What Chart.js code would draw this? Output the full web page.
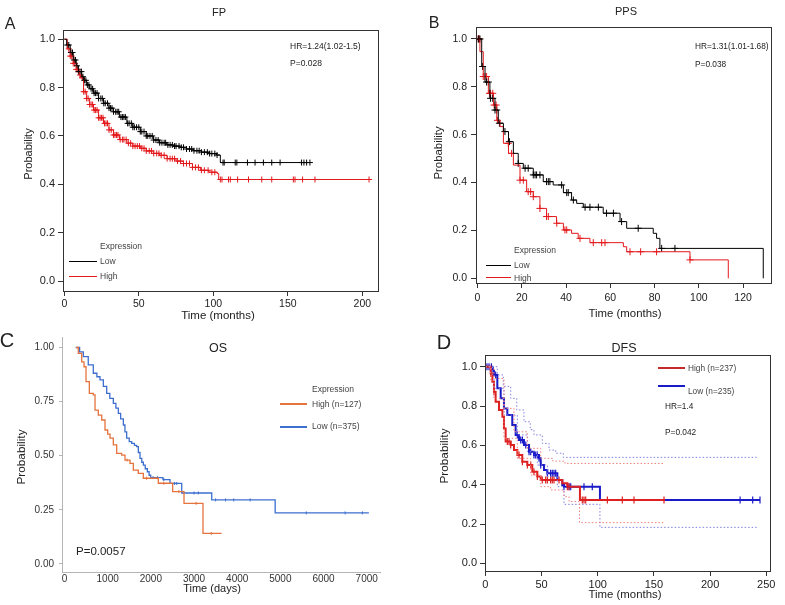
<!DOCTYPE html>
<html>
<head>
<meta charset="utf-8">
<script src="https://cdn.jsdelivr.net/npm/chart.js@4.4.1/dist/chart.umd.min.js"></script>
<style>
  body { margin: 0; background: #fff; width: 785px; height: 605px; position: relative; overflow: hidden;
         font-family: "Liberation Sans", Arial, sans-serif; color: #222; }
  canvas { position: absolute; }
  .t { position: absolute; white-space: nowrap; line-height: 1; }
  .c { transform: translate(-50%, -50%); }
  .l { transform: translateY(-50%); }
  .v { transform: translate(-50%, -50%) rotate(-90deg); }
  .ln { position: absolute; height: 1px; }
</style>
</head>
<body>
<canvas id="cA" width="392" height="322" style="left:0;top:0"></canvas>
<canvas id="cB" width="393" height="322" style="left:392px;top:0"></canvas>
<canvas id="cC" width="392" height="280" style="left:0;top:325px"></canvas>
<canvas id="cD" width="393" height="280" style="left:392px;top:325px"></canvas>

<!-- panel A -->
<div class="t c" style="left:10px;top:24px;font-size:16px">A</div>
<div class="t c" style="left:219px;top:12px;font-size:11px">FP</div>
<div class="t l" style="left:290px;top:46px;font-size:8.5px">HR=1.24(1.02-1.5)</div>
<div class="t l" style="left:290px;top:63px;font-size:8.5px">P=0.028</div>
<div class="t l" style="left:100px;top:246px;font-size:8.5px;color:#444">Expression</div>
<div class="ln" style="left:69px;top:261px;width:28px;background:#000"></div>
<div class="t l" style="left:100px;top:261px;font-size:8.5px;color:#444">Low</div>
<div class="ln" style="left:69px;top:276px;width:28px;background:#e3191c"></div>
<div class="t l" style="left:100px;top:276px;font-size:8.5px;color:#444">High</div>
<div class="t v" style="left:28px;top:154px;font-size:11px">Probability</div>
<div class="t c" style="left:218px;top:316px;font-size:11.5px">Time (months)</div>

<!-- panel B -->
<div class="t c" style="left:434px;top:23px;font-size:16px">B</div>
<div class="t c" style="left:626px;top:11px;font-size:11px">PPS</div>
<div class="t l" style="left:695px;top:46px;font-size:8.3px">HR=1.31(1.01-1.68)</div>
<div class="t l" style="left:695px;top:64px;font-size:8.3px">P=0.038</div>
<div class="t l" style="left:514px;top:250px;font-size:8.5px;color:#444">Expression</div>
<div class="ln" style="left:486px;top:265px;width:25px;background:#000"></div>
<div class="t l" style="left:514px;top:265px;font-size:8.5px;color:#444">Low</div>
<div class="ln" style="left:486px;top:277px;width:25px;background:#e3191c"></div>
<div class="t l" style="left:514px;top:278px;font-size:8.5px;color:#444">High</div>
<div class="t v" style="left:439px;top:153px;font-size:11.4px">Probability</div>
<div class="t c" style="left:625px;top:314px;font-size:11.4px">Time (months)</div>

<!-- panel C -->
<div class="t c" style="left:7px;top:340px;font-size:20px">C</div>
<div class="t c" style="left:218px;top:348px;font-size:12.5px">OS</div>
<div class="t l" style="left:312px;top:389px;font-size:8.5px;color:#444">Expression</div>
<div class="ln" style="left:280px;top:403px;width:27px;height:2px;background:#e5733e"></div>
<div class="t l" style="left:312px;top:404px;font-size:8.5px;color:#444">High (n=127)</div>
<div class="ln" style="left:280px;top:426px;width:27px;height:1.5px;background:#3d6fcf"></div>
<div class="t l" style="left:312px;top:426px;font-size:8.5px;color:#444">Low (n=375)</div>
<div class="t l" style="left:76px;top:552px;font-size:11.5px">P=0.0057</div>
<div class="t v" style="left:22px;top:457px;font-size:11.8px">Probability</div>
<div class="t c" style="left:212px;top:588px;font-size:11px">Time (days)</div>

<!-- panel D -->
<div class="t c" style="left:444px;top:342px;font-size:20px">D</div>
<div class="t c" style="left:624px;top:348px;font-size:12.5px">DFS</div>
<div class="ln" style="left:658px;top:367px;width:27px;height:1.5px;background:#c42a2a"></div>
<div class="t l" style="left:688px;top:368px;font-size:8.3px;color:#444">High (n=237)</div>
<div class="ln" style="left:658px;top:385px;width:27px;height:1.5px;background:#1a1ac8"></div>
<div class="t l" style="left:688px;top:391px;font-size:8.3px;color:#444">Low (n=235)</div>
<div class="t l" style="left:665px;top:406px;font-size:8.3px">HR=1.4</div>
<div class="t l" style="left:665px;top:432px;font-size:8.3px">P=0.042</div>
<div class="t v" style="left:445px;top:456px;font-size:11.8px">Probability</div>
<div class="t c" style="left:625px;top:595px;font-size:11.4px">Time (months)</div>

<script>
// ---------- A: FP (months) ----------
const fpTicksX = [0, 50, 100, 150, 200];
const probTicks = [0, 0.2, 0.4, 0.6, 0.8, 1.0];
const fpLowT  = [0, 1.6, 4, 6, 8, 9.5, 11.7, 13, 15, 17, 19.6, 23, 26.3, 30, 33, 37, 42, 46, 51, 55, 59.8, 64, 68.7, 73, 77.6, 82, 86.6, 92, 97, 102.2, 104.7, 164.8];
const fpLowS  = [1, 0.976, 0.945, 0.914, 0.89, 0.866, 0.845, 0.83, 0.811, 0.795, 0.777, 0.755, 0.735, 0.715, 0.7, 0.678, 0.652, 0.636, 0.618, 0.6, 0.583, 0.572, 0.563, 0.558, 0.553, 0.546, 0.539, 0.533, 0.527, 0.521, 0.49, 0.49];
const fpHighT = [0, 2, 4, 6, 8, 10, 11, 12.9, 15, 17, 19.6, 23, 26.3, 30, 33, 37, 42, 46, 51, 55, 59.8, 64, 69, 75, 80, 86, 91.3, 97, 102.5, 103.6, 204.5];
const fpHighS = [1, 0.96, 0.93, 0.9, 0.875, 0.852, 0.84, 0.783, 0.755, 0.73, 0.707, 0.675, 0.652, 0.625, 0.604, 0.585, 0.57, 0.558, 0.549, 0.538, 0.528, 0.52, 0.506, 0.496, 0.486, 0.47, 0.458, 0.45, 0.445, 0.42, 0.42];
const fpLowCens  = [2, 3, 4.5, 5.5, 6.5, 7.5, 8.5, 9.5, 10.5, 11.5, 12.5, 13.5, 14.5, 15.5, 16.5, 18, 19, 20, 21, 22, 23, 24.5, 25.5, 26.5, 27.5, 29, 30, 31, 32, 33, 34.5, 35.5, 36.5, 38, 39, 40, 41, 42.5, 43.5, 45, 46, 47, 48.5, 50, 51, 52, 53.5, 55, 56, 57.5, 59, 60, 61.5, 63, 64, 65.5, 67, 68, 69.5, 71, 72.5, 74, 75, 77, 78.5, 80, 82, 84, 85.5, 87, 89, 90.5, 92, 94, 96, 97.5, 99, 101, 102.5, 106.5, 107.3, 114.7, 115.8, 122.9, 128, 133.6, 139.2, 144.8, 159.2, 160.8, 162.6, 164.8];
const fpHighCens = [3, 4, 5, 6, 7, 8, 9, 10.5, 12, 13, 14, 15, 16, 17, 18, 19, 20, 21, 22, 23, 24, 25, 26, 27, 28, 29, 30, 31.5, 33, 34, 35, 36, 37.5, 39, 40, 41.5, 43, 44.5, 46, 47.5, 49, 50.5, 52, 53.5, 55, 57, 58.5, 60, 62, 63.5, 65, 67, 69, 71, 72.5, 74, 76, 78, 80, 82, 84, 86, 88, 90, 92, 94, 96.5, 99, 101, 104.7, 105.8, 110.2, 111.4, 116.3, 123.6, 132.5, 139.2, 153.7, 154.8, 159.9, 168.2, 204.5];

// ---------- B: PPS (months) ----------
const ppsTicksX = [0, 20, 40, 60, 80, 100, 120];
const ppsLowT  = [0, 1.9, 3.4, 5.6, 7.9, 9.4, 11.7, 14, 16.2, 18.4, 20.7, 25.2, 29.7, 34.2, 38.8, 42.5, 44.8, 47.8, 55.3, 56.8, 64.4, 67.4, 79.4, 80.9, 82.4, 129.1];
const ppsLowS  = [1, 0.885, 0.82, 0.752, 0.703, 0.648, 0.613, 0.571, 0.522, 0.48, 0.46, 0.432, 0.404, 0.39, 0.358, 0.327, 0.313, 0.297, 0.297, 0.272, 0.237, 0.209, 0.188, 0.167, 0.125, 0];
const ppsHighT = [0, 1.1, 2.6, 4.9, 7.2, 8.7, 10.2, 11.7, 14, 16.2, 19.2, 22.2, 25.2, 28.2, 31.2, 35.7, 38.8, 42.5, 45.5, 50.8, 65.9, 67.4, 96, 113.3];
const ppsHighS = [1, 0.947, 0.843, 0.773, 0.724, 0.66, 0.634, 0.564, 0.522, 0.473, 0.41, 0.362, 0.341, 0.292, 0.258, 0.23, 0.202, 0.188, 0.167, 0.149, 0.132, 0.111, 0.077, 0];
const ppsLowCens  = [0.4, 1.1, 2.3, 4.1, 4.9, 5.9, 6.9, 7.9, 8.7, 9.9, 12.4, 14.4, 18.4, 21.5, 22.9, 25.2, 26, 26.7, 28.2, 31.2, 32, 32.7, 38, 40.3, 41, 43.3, 48.6, 50.8, 54.6, 58.3, 61.4, 65.1, 72.6, 83.2, 89.2];
const ppsHighCens = [0.3, 0.5, 0.8, 2.6, 3.4, 4.1, 5.4, 5.9, 6.9, 7.5, 8.4, 9, 13.9, 15.4, 19.2, 20.7, 22.9, 24, 25.2, 28.2, 31.2, 32, 35.8, 39.5, 40.3, 46.3, 52.3, 56.1, 57.6, 68.9, 73.7, 80.9, 96];

// ---------- C: OS (days) ----------
const osTicksX = [0, 1000, 2000, 3000, 4000, 5000, 6000, 7000];
const osTicksY = [0, 0.25, 0.5, 0.75, 1.0];
const osHighT = [266, 320, 398, 452, 498, 575, 667, 707, 783, 862, 938, 1000, 1054, 1131, 1209, 1325, 1401, 1517, 1594, 1710, 1826, 2173, 2506, 2768, 3208, 3638];
const osHighS = [1, 0.973, 0.934, 0.911, 0.842, 0.788, 0.781, 0.711, 0.688, 0.665, 0.619, 0.6, 0.581, 0.55, 0.511, 0.503, 0.48, 0.465, 0.434, 0.419, 0.396, 0.373, 0.334, 0.28, 0.141, 0.141];
const osLowT  = [260, 350, 436, 550, 667, 750, 822, 900, 977, 1050, 1131, 1190, 1247, 1300, 1363, 1400, 1440, 1500, 1556, 1620, 1672, 1710, 1749, 1790, 1826, 1870, 1919, 1960, 1997, 2280, 2444, 2715, 3410, 4880, 7050];
const osLowS  = [1, 0.98, 0.958, 0.92, 0.881, 0.865, 0.85, 0.82, 0.788, 0.765, 0.742, 0.72, 0.696, 0.67, 0.642, 0.61, 0.581, 0.565, 0.557, 0.548, 0.542, 0.515, 0.488, 0.47, 0.457, 0.44, 0.426, 0.41, 0.399, 0.39, 0.372, 0.328, 0.296, 0.236, 0.236];
const osHighCens = [1450, 1900, 2300, 2650, 3050, 3400];
const osLowCens  = [2050, 2150, 2300, 2550, 2600, 3000, 3100, 3500, 3730, 3920, 4300, 5600, 6500, 6900];

// ---------- D: DFS (months) ----------
const dfsTicksX = [0, 50, 100, 150, 200, 250];
const dfsHighT = [0, 4.8, 6.3, 7.7, 9.2, 12.2, 15.2, 16.6, 18.1, 22.6, 25.5, 28.5, 32.9, 37.4, 41.8, 46.3, 49.3, 68.5, 73, 84.2, 159.9];
const dfsHighS = [1, 0.966, 0.924, 0.873, 0.822, 0.78, 0.746, 0.686, 0.619, 0.602, 0.576, 0.551, 0.517, 0.5, 0.466, 0.441, 0.424, 0.407, 0.39, 0.322, 0.322];
const dfsLowT  = [0, 6.3, 7.7, 10.7, 13.7, 16.6, 19.6, 24, 27, 30, 34.4, 38.9, 43.3, 47.8, 49.3, 52.2, 55.2, 64.1, 68.5, 70, 102, 244.4];
const dfsLowS  = [1, 0.98, 0.958, 0.89, 0.839, 0.788, 0.754, 0.703, 0.653, 0.627, 0.602, 0.568, 0.551, 0.534, 0.5, 0.475, 0.458, 0.424, 0.398, 0.39, 0.322, 0.322];
const dfsHighUpT = [0, 4.8, 7.7, 16.6, 25.5, 37.4, 49.3, 60, 70.9, 158.4];
const dfsHighUpS = [1, 0.99, 0.94, 0.788, 0.669, 0.585, 0.534, 0.52, 0.508, 0.508];
const dfsHighLoT = [0, 4.8, 7.7, 16.6, 28.5, 40.4, 49.3, 58.1, 70, 74.5, 83.8, 158.4];
const dfsHighLoS = [1, 0.93, 0.839, 0.636, 0.534, 0.449, 0.39, 0.373, 0.339, 0.314, 0.207, 0.207];
const dfsLowUpT  = [0, 6.3, 10.7, 16, 22.6, 28, 34.4, 40, 43.3, 50.7, 56.7, 62.6, 69.4, 241.5];
const dfsLowUpS  = [1, 1, 0.958, 0.9, 0.839, 0.78, 0.72, 0.68, 0.653, 0.61, 0.576, 0.56, 0.539, 0.539];
const dfsLowLoT  = [0, 6.3, 7.7, 16.6, 28.5, 37.4, 46.3, 55.2, 64.1, 70, 102, 241.5];
const dfsLowLoS  = [1, 0.96, 0.89, 0.754, 0.653, 0.568, 0.5, 0.441, 0.39, 0.3, 0.183, 0.183];
const dfsHighCens = [4.8, 7.7, 19.6, 21.1, 22.6, 30, 33, 37.4, 40.4, 43.3, 46.3, 50.7, 53.7, 55.2, 58.1, 59.6, 61.1, 65.6, 73, 74.5, 86.3, 87.8, 89.3, 108.6, 121.9, 132.3, 159];
const dfsLowCens  = [1.5, 3.3, 5.4, 7.1, 9.2, 28.5, 31.5, 33, 36, 38.9, 40.4, 43.3, 44.8, 46.3, 47.8, 49.3, 55.2, 58.1, 59.6, 61.1, 62.6, 70, 74.5, 76, 87.8, 95.2, 226.7, 237.9, 244.4];

const FONT = '"Liberation Sans", Arial, sans-serif';

function steps(t, s) { return t.map((v, i) => ({ x: v, y: s[i] })); }
// censor mark sits on the curve value in force at that time
function marks(c, t, s) {
  return c.map(v => {
    let i = 0;
    while (i + 1 < t.length && t[i + 1] <= v) i++;
    return { x: v, y: s[i] };
  });
}
function curve(t, s, col, w, dash) {
  return { data: steps(t, s), borderColor: col, borderWidth: w, borderDash: dash || [], stepped: true, pointRadius: 0, fill: false };
}
function cens(c, t, s, col, style, r, w) {
  return { data: marks(c, t, s), showLine: false, borderColor: col, backgroundColor: col, pointStyle: style,
           pointRotation: style === 'line' ? 90 : 0, pointRadius: r, borderWidth: w };
}

const frame = {
  id: 'frame',
  afterDraw(chart, args, opts) {
    if (!opts.on) return;
    const a = chart.chartArea, ctx = chart.ctx;
    ctx.save();
    ctx.strokeStyle = opts.color;
    ctx.lineWidth = 1;
    ctx.strokeRect(Math.round(a.left) + 0.5, Math.round(a.top) + 0.5, Math.round(a.right - a.left), Math.round(a.bottom - a.top));
    ctx.restore();
  }
};

function axis(o) {
  return {
    type: 'linear', min: o.min, max: o.max,
    afterBuildTicks: s => { s.ticks = o.ticks.map(v => ({ value: v })); },
    afterFit: s => { if (o.w) s.width = o.w; if (o.h) s.height = o.h; },
    grid: { drawOnChartArea: false, drawTicks: o.tick > 0, tickLength: o.tick, color: o.col, lineWidth: 1 },
    border: { display: true, color: o.col, width: 1 },
    ticks: { font: { family: FONT, size: o.size }, color: o.txt, padding: o.pad, maxRotation: 0, autoSkip: false,
             callback: o.fmt }
  };
}

function panel(id, pad, xo, yo, sets, boxed, boxCol) {
  return new Chart(document.getElementById(id), {
    type: 'line',
    data: { datasets: sets },
    options: {
      responsive: false, animation: false,
      layout: { padding: pad },
      plugins: { legend: { display: false }, tooltip: { enabled: false }, frame: { on: boxed, color: boxCol } },
      scales: { x: axis(xo), y: axis(yo) }
    },
    plugins: [frame]
  });
}

const f1 = v => v.toFixed(1), f2 = v => v.toFixed(2), f0 = v => String(v);
const RED = '#e3191c';

// A
panel('cA', { left: 0, top: 30, right: 14, bottom: 0 },
  { min: -0.87, max: 210.5, ticks: fpTicksX, h: 31, tick: 5, pad: 2, size: 10.5, col: '#333', txt: '#222', fmt: f0 },
  { min: -0.041, max: 1.038, ticks: probTicks, w: 63, tick: 5, pad: 3, size: 11, col: '#333', txt: '#222', fmt: f1 },
  [curve(fpLowT, fpLowS, '#000', 1), curve(fpHighT, fpHighS, RED, 1),
   cens(fpLowCens, fpLowT, fpLowS, '#000', 'cross', 3, 1), cens(fpHighCens, fpHighT, fpHighS, RED, 'cross', 3, 1)],
  true, '#333');

// B
panel('cB', { left: 0, top: 27, right: 14, bottom: 0 },
  { min: -0.68, max: 132.6, ticks: ppsTicksX, h: 39, tick: 5, pad: 4, size: 10.5, col: '#333', txt: '#222', fmt: f0 },
  { min: -0.0196, max: 1.05, ticks: probTicks, w: 84, tick: 5, pad: 4, size: 10.5, col: '#333', txt: '#222', fmt: f1 },
  [curve(ppsLowT, ppsLowS, '#000', 1), curve(ppsHighT, ppsHighS, RED, 1),
   cens(ppsLowCens, ppsLowT, ppsLowS, '#000', 'cross', 3.5, 1), cens(ppsHighCens, ppsHighT, ppsHighS, RED, 'cross', 3.5, 1)],
  true, '#333');

// C
panel('cC', { left: 0, top: 12, right: 12, bottom: 0 },
  { min: -58, max: 7308, ticks: osTicksX, h: 33, tick: 0, pad: 1, size: 10, col: '#b5b5b5', txt: '#333', fmt: f0 },
  { min: -0.037, max: 1.0485, ticks: osTicksY, w: 62, tick: 3, pad: 5, size: 10, col: '#b5b5b5', txt: '#333', fmt: f2 },
  [curve(osHighT, osHighS, '#e5733e', 1.3), curve(osLowT, osLowS, '#3d6fcf', 1.3),
   cens(osHighCens, osHighT, osHighS, '#e5733e', 'line', 1.5, 1), cens(osLowCens, osLowT, osLowS, '#3d6fcf', 'line', 1.5, 1)],
  false, '#999');

// D
const DRED = '#dd2020', DBLUE = '#1a1ac8';
panel('cD', { left: 0, top: 30, right: 15, bottom: 0 },
  { min: -0.27, max: 253.3, ticks: dfsTicksX, h: 34, tick: 5, pad: 2, size: 11, col: '#333', txt: '#222', fmt: f0 },
  { min: -0.039, max: 1.0595, ticks: probTicks, w: 93, tick: 5, pad: 3, size: 11, col: '#333', txt: '#222', fmt: f1 },
  [curve(dfsHighUpT, dfsHighUpS, '#f08080', 1, [1.5, 2]), curve(dfsHighLoT, dfsHighLoS, '#f08080', 1, [1.5, 2]),
   curve(dfsLowUpT, dfsLowUpS, '#8080e0', 1, [1.5, 2]), curve(dfsLowLoT, dfsLowLoS, '#8080e0', 1, [1.5, 2]),
   curve(dfsHighT, dfsHighS, DRED, 2), curve(dfsLowT, dfsLowS, DBLUE, 2),
   cens(dfsHighCens, dfsHighT, dfsHighS, DRED, 'line', 3.5, 1.2), cens(dfsLowCens, dfsLowT, dfsLowS, DBLUE, 'line', 3.5, 1.2)],
  true, '#333');
</script>
</body>
</html>
